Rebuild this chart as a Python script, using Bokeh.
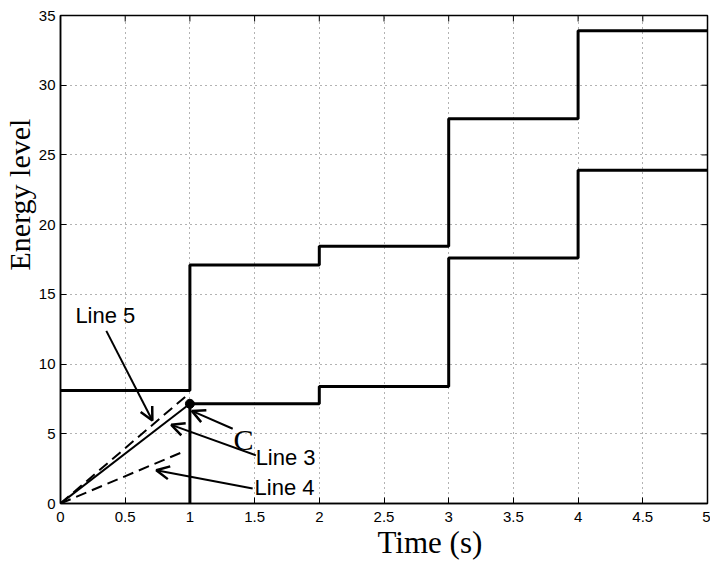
import math
from bokeh.plotting import figure
from bokeh.models import Label, Arrow, OpenHead, Range1d, FixedTicker, Title
from bokeh.embed import file_html
from bokeh.resources import INLINE

# ---- data ----
step_times = [0, 1, 2, 3, 4, 5]
upper_energy = [8.1, 17.1, 18.45, 27.6, 33.9, 33.9]
lower_times = [1, 1, 2, 3, 4, 5]
lower_energy = [0, 7.15, 8.4, 17.6, 23.9, 23.9]
line3_x = [0, 1]
line3_y = [0, 7.15]
line5_x = [0, 0.965]
line5_y = [0, 7.66]
line4_x = [0, 0.945]
line4_y = [0, 3.7]
point_c_x = [1]
point_c_y = [7.15]
x_ticks = [0, 0.5, 1, 1.5, 2, 2.5, 3, 3.5, 4, 4.5, 5]
x_tick_labels = ["0", "0.5", "1", "1.5", "2", "2.5", "3", "3.5", "4", "4.5", "5"]
y_ticks = [0, 5, 10, 15, 20, 25, 30, 35]
y_tick_labels = ["0", "5", "10", "15", "20", "25", "30", "35"]

SANS = "Liberation Sans"
SERIF = "Liberation Serif"

X_MIN, X_MAX, Y_MIN, Y_MAX = 0, 5, 0, 35

p = figure(width=710, height=561, output_backend="svg", toolbar_location=None,
           x_range=Range1d(X_MIN, X_MAX), y_range=Range1d(Y_MIN, Y_MAX),
           min_border_left=57, min_border_right=3, min_border_top=15, min_border_bottom=56)
p.background_fill_color = "white"
p.border_fill_color = "white"
p.outline_line_color = "black"
p.outline_line_width = 1.5

bottom_axis = p.below[0]
left_axis = p.left[0]
for ax in (bottom_axis, left_axis):
    ax.axis_line_width = 1.5
    ax.axis_line_color = "black"
    ax.major_tick_in = 6
    ax.major_tick_out = 0
    ax.major_tick_line_width = 1
    ax.minor_tick_line_color = None
    ax.major_label_text_font = SANS
    ax.major_label_text_font_size = "15px"
    ax.major_label_text_color = "black"

bottom_axis.ticker = FixedTicker(ticks=x_ticks)
bottom_axis.major_label_overrides = {t: l for t, l in zip(x_ticks, x_tick_labels)}
bottom_axis.major_label_standoff = 8
left_axis.ticker = FixedTicker(ticks=y_ticks)
left_axis.major_label_overrides = {t: l for t, l in zip(y_ticks, y_tick_labels)}
left_axis.major_label_standoff = 5

p.grid.grid_line_color = "black"
p.grid.grid_line_alpha = 0.6
p.grid.grid_line_dash = "1 4"
p.grid.grid_line_width = 1

# mirrored inward tick marks on the top and right edges of the box
p.scatter(x_ticks, [Y_MAX] * len(x_ticks), marker="dash", angle=math.pi / 2,
          size=12, line_color="black", line_width=1)
p.scatter([X_MAX] * len(y_ticks), y_ticks, marker="dash",
          size=12, line_color="black", line_width=1)

# staircases
p.step(step_times, upper_energy, mode="after", line_color="black", line_width=3)
p.step(lower_times, lower_energy, mode="after", line_color="black", line_width=3)

# rising lines
p.line(line3_x, line3_y, line_color="black", line_width=2)
p.line(line5_x, line5_y, line_color="black", line_width=2, line_dash="11 6")
p.line(line4_x, line4_y, line_color="black", line_width=2, line_dash="11 6")
p.scatter(point_c_x, point_c_y, size=9, fill_color="black", line_color="black")

# annotations
def arrow(xs, ys, xe, ye):
    p.add_layout(Arrow(end=OpenHead(size=13, line_width=2.5, line_color="black"),
                       x_start=xs, y_start=ys, x_end=xe, y_end=ye,
                       line_width=2, line_color="black"))

arrow(0.354, 12.38, 0.71, 5.95)
arrow(1.331, 5.36, 1.015, 6.64)
arrow(1.51, 3.45, 0.856, 5.64)
arrow(1.485, 1.07, 0.74, 2.38)

def label(x, y, text, font, size, align="left"):
    p.add_layout(Label(x=x, y=y, text=text, text_font=font, text_color="black",
                       text_font_size=size, text_baseline="middle", text_align=align))

label(0.115, 13.5, "Line 5", SANS, "22px")
label(1.508, 3.29, "Line 3", SANS, "22px")
label(1.5, 1.14, "Line 4", SANS, "22px")
label(1.415, 4.57, "C", SERIF, "30px", "center")

# axis titles (offset from centre as in the reference)
p.add_layout(Title(text="Time (s)", align="left", offset=317, text_font=SERIF,
                   text_font_size="31px", text_font_style="normal", text_color="black",
                   vertical_align="top", text_line_height=0.8, standoff=0), "below")
p.add_layout(Title(text="Energy level", align="left", offset=233, text_font=SERIF,
                   text_font_size="30px", text_font_style="normal", text_color="black",
                   standoff=0), "left")

open("out.html", "w").write(file_html(p, INLINE))
